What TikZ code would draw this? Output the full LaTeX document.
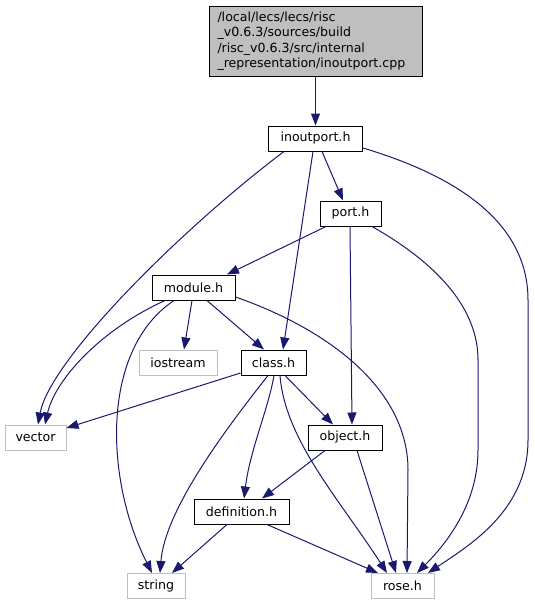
\documentclass[tikz,border=0pt]{standalone}
\usepackage{fontspec}
\setmainfont{DejaVu Sans}
\usetikzlibrary{arrows.meta}
\definecolor{edgeblue}{HTML}{191970}
\definecolor{greyline}{HTML}{BFBFBF}
\begin{document}
\begin{tikzpicture}[x=1pt,y=-1pt,
  file/.style={draw=black,line width=1pt,rectangle,minimum height=25pt,inner sep=0pt,font=\fontsize{12.6}{15.5}\selectfont},
  ext/.style={file,draw=greyline},
  dep/.style={draw=edgeblue,line width=1pt,-{Triangle[length=12pt,width=9pt]}}]
\useasboundingbox (0,0) rectangle (535,605);
\node[file,fill=greyline,minimum width=213pt,minimum height=70pt,align=left,text width=196pt] (cpp) at (315.5,41) {/local/lecs/lecs/risc\\\_v0.6.3/sources/build\\/risc\_v0.6.3/src/internal\\\_representation/inoutport.cpp};
\node[file,minimum width=94pt] (inout) at (315.5,138.5) {inoutport.h};
\node[file,minimum width=61pt] (port) at (350.5,213.5) {port.h};
\node[file,minimum width=83pt] (module) at (193.5,287.5) {module.h};
\node[ext,minimum width=78pt] (iostream) at (178,362.5) {iostream};
\node[file,minimum width=65pt] (class) at (273.5,362.5) {class.h};
\node[ext,minimum width=61pt] (vector) at (35.5,437.5) {vector};
\node[file,minimum width=74pt] (object) at (345,437.5) {object.h};
\node[file,minimum width=95pt] (definition) at (241.5,511.5) {definition.h};
\node[ext,minimum width=58pt] (string) at (156,586) {string};
\node[ext,minimum width=63pt] (rose) at (402.5,586) {rose.h};

\draw[dep] (cpp.south) -- (inout.north);
% inoutport.h
\draw[dep] ([xshift=-31.5pt]inout.south) .. controls (180,230) and (50,360) .. ([xshift=2.5pt]vector.north);
\draw[dep] ([xshift=6.5pt]inout.south) -- ([xshift=-7.5pt]port.north);
\draw[dep] ([xshift=-2.5pt]inout.south) -- ([xshift=9.5pt]class.north);
\draw[dep] ([yshift=-9.5pt]inout.east) .. controls (470,180) and (528,230) .. (528,300) -- (528,440) .. controls (528,510) and (470,545) .. ([xshift=25.5pt]rose.north);
% port.h
\draw[dep] ([xshift=-24.5pt]port.south) -- ([xshift=33.5pt]module.north);
\draw[dep] ([xshift=-0.5pt]port.south) -- ([xshift=7pt]object.north);
\draw[dep] ([xshift=21.5pt]port.south) .. controls (440,265) and (478,310) .. (478,360) -- (478,450) .. controls (478,505) and (445,545) .. ([xshift=14.5pt]rose.north);
% module.h
\draw[dep] ([xshift=-28.5pt]module.south) .. controls (100,330) and (55,380) .. ([xshift=9.5pt]vector.north);
\draw[dep] ([xshift=-1.5pt]module.south) -- ([xshift=6pt]iostream.north);
\draw[dep] ([xshift=13.5pt]module.south) -- ([xshift=-9.5pt]class.north);
\draw[dep] ([xshift=-19.5pt]module.south) .. controls (100,350) and (105,480) .. ([xshift=-4pt]string.north);
\draw[dep] ([yshift=-9.5pt]module.east) .. controls (330,330) and (408,390) .. (408,470) -- ([xshift=4.5pt]rose.north);
% class.h
\draw[dep] ([yshift=-10.5pt]class.west) -- ([yshift=9.5pt]vector.east);
\draw[dep] ([xshift=11.5pt]class.south) -- ([xshift=-12pt]object.north);
\draw[dep] ([xshift=0.5pt]class.south) .. controls (268,410) and (250,450) .. ([xshift=2.5pt]definition.north);
\draw[dep] ([xshift=-5.5pt]class.south) .. controls (225,430) and (165,510) .. ([xshift=4pt]string.north);
\draw[dep] ([xshift=6.5pt]class.south) .. controls (285,440) and (340,500) .. ([xshift=-15.5pt]rose.north);
% object.h
\draw[dep] ([xshift=-20pt]object.south) -- ([xshift=20.5pt]definition.north);
\draw[dep] ([xshift=12pt]object.south) -- ([xshift=-6.5pt]rose.north);
% definition.h
\draw[dep] ([xshift=-14.5pt]definition.south) -- ([xshift=16pt]string.north);
\draw[dep] ([xshift=25.5pt]definition.south) -- ([xshift=-24.5pt]rose.north);
\end{tikzpicture}
\end{document}
